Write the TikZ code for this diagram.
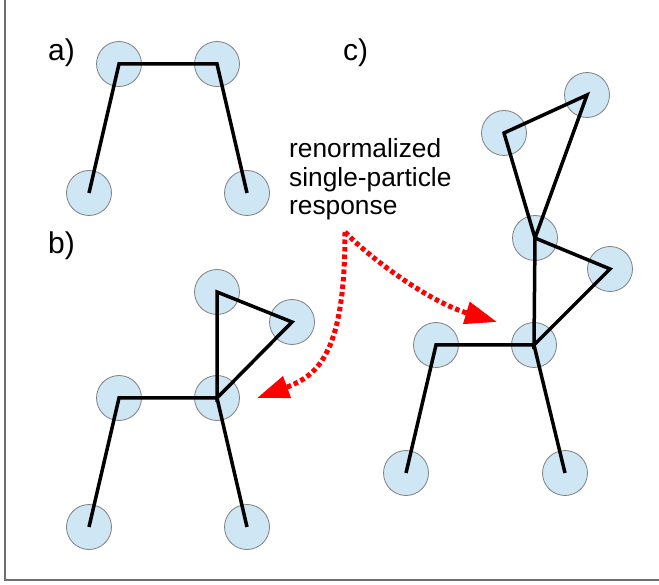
\documentclass[tikz,border=0pt]{standalone}
\usepackage{fontspec}
\setmainfont{Liberation Sans}
\usetikzlibrary{arrows.meta}
\definecolor{ballfill}{RGB}{207,230,244}
\definecolor{ballline}{RGB}{128,128,128}
\definecolor{framec}{RGB}{110,110,110}
\begin{document}
\begin{tikzpicture}[x=1pt,y=-1pt,
  ball/.style={circle,minimum size=45pt,inner sep=0pt,fill=ballfill,draw=ballline,line width=0.8pt},
  bond/.style={line width=3.5pt,black},
  lab/.style={anchor=base west,inner sep=0pt,font=\fontsize{30}{34}\selectfont},
  txt/.style={inner sep=0pt,font=\fontsize{26.3}{28.5}\selectfont,align=left},
  resp/.style={red,line width=5pt,dash pattern=on 4.5pt off 3pt,-{Triangle[length=32pt,width=22pt]}}]
\useasboundingbox (0,0) rectangle (659,585);
% frame
\coordinate (ftop) at (5,0);
\coordinate (fcorner) at (5,580);
\coordinate (fright) at (659,580);
\draw[framec,line width=2pt] (ftop) -- (fcorner) -- (fright);
% labels
\node[lab] (la) at (48,60.5) {a)};
\node[lab] (lb) at (48,254) {b)};
\node[lab] (lc) at (343,60.5) {c)};
\node[txt,anchor=north west] (txt) at (289,138.5) {renormalized\\single-particle\\response};
% panel a
\node[ball] (a1) at (119,64) {};
\node[ball] (a2) at (217,64) {};
\node[ball] (a3) at (89,193) {};
\node[ball] (a4) at (247,193) {};
\draw[bond] (a3.center) -- (a1.center) -- (a2.center) -- (a4.center);
% panel b
\node[ball] (b1) at (119,398) {};
\node[ball] (b2) at (217,398) {};
\node[ball] (b3) at (89,527) {};
\node[ball] (b4) at (247,527) {};
\node[ball] (b5) at (217,292) {};
\node[ball] (b6) at (292,322) {};
\draw[bond] (b3.center) -- (b1.center) -- (b2.center) -- (b4.center);
\draw[bond] (b2.center) -- (b5.center) -- (b6.center) -- cycle;
% panel c
\node[ball] (c1) at (436,345) {};
\node[ball] (c2) at (534,345) {};
\node[ball] (c3) at (406,473) {};
\node[ball] (c4) at (565,473) {};
\node[ball] (c5) at (535,238) {};
\node[ball] (c6) at (610,269) {};
\node[ball] (c7) at (504,133) {};
\node[ball] (c8) at (587,95) {};
\draw[bond] (c3.center) -- (c1.center) -- (c2.center) -- (c4.center);
\draw[bond] (c2.center) -- (c5.center) -- (c6.center) -- cycle;
\draw[bond] (c5.center) -- (c7.center) -- (c8.center) -- cycle;
% arrows
\coordinate (src) at (345,232);
\coordinate (tipc) at (497,322);
\coordinate (tipb) at (257,398);
\draw[resp] (src) .. controls (372,260) and (430,302) .. (tipc);
\draw[resp] (src) .. controls (345,350) and (320,375) .. (tipb);
\end{tikzpicture}
\end{document}
